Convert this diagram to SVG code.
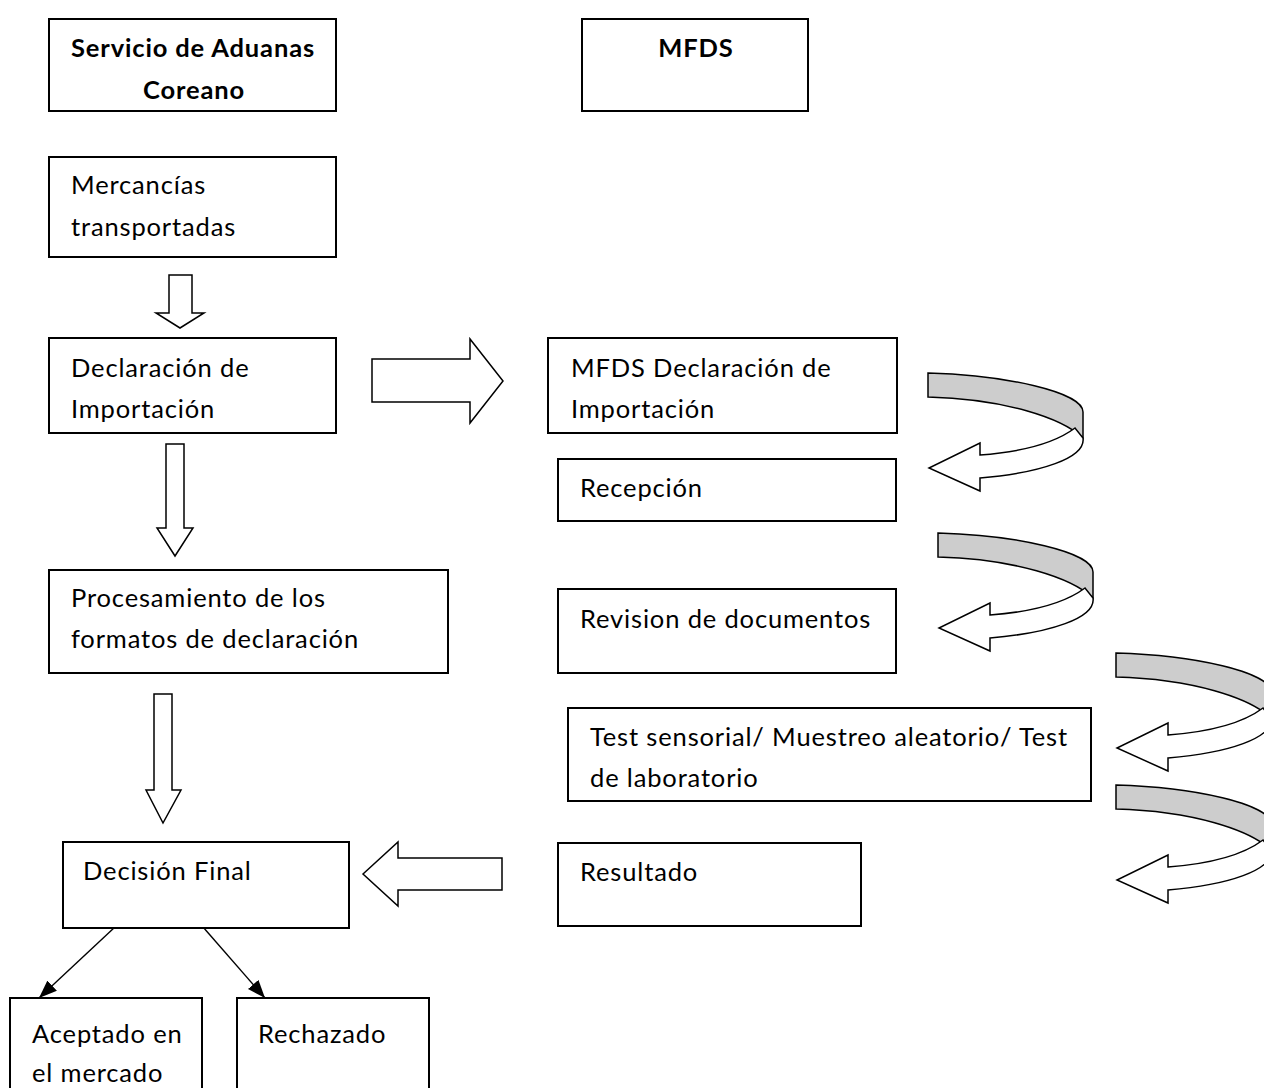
<svg xmlns="http://www.w3.org/2000/svg" xmlns:xlink="http://www.w3.org/1999/xlink" width="1264" height="1088" viewBox="0 0 1264 1088">
<style>
.box{fill:#fff;stroke:#000;stroke-width:2}
.t{font-family:Lato,"Liberation Sans",sans-serif;font-size:25.5px;letter-spacing:0.85px;fill:#000}
.b{font-weight:bold;text-anchor:middle}
.blk{fill:#fff;stroke:#000;stroke-width:1.5;stroke-linejoin:miter}
.gray{fill:#cdcdcd;stroke:#000;stroke-width:1.5}
.wht{fill:#fff;stroke:#000;stroke-width:1.5}
.ln{stroke:#000;stroke-width:1.4;fill:none}
</style>
<defs>
<marker id="ah" viewBox="0 0 18 14" refX="18" refY="7" markerWidth="18" markerHeight="14" markerUnits="userSpaceOnUse" orient="auto">
<path d="M0,0 L18,7 L0,14 Z" fill="#000"/>
</marker>
<g id="curl">
<path class="gray" d="M928,373 C1005,375 1083,392 1083,412 L1083,438 C1062,418 1005,399 928,397 Z"/>
<path class="wht" d="M1075,428 C1055,443 1020,452 980,455 L980,443 L929,468 L980,491 L980,478 C1040,473 1086,458 1083,438 Z"/>
</g>
</defs>
<rect width="1264" height="1088" fill="#fff"/>

<g id="connectors">
<polygon class="blk" points="169,275 192,275 192,313 204,313 180,328 156,313 169,313"/>
<polygon class="blk" points="372,359 470,359 470,339 503,381 470,423 470,402 372,402"/>
<polygon class="blk" points="166,444 184,444 184,528 193,528 175,556 157,528 166,528"/>
<polygon class="blk" points="154,694 172,694 172,790 181,790 163,823 146,790 154,790"/>
<polygon class="blk" points="363,874 398,842 398,858 502,858 502,890 398,890 398,906"/>
<use xlink:href="#curl"/>
<use xlink:href="#curl" transform="translate(10,160)"/>
<use xlink:href="#curl" transform="translate(188,280)"/>
<use xlink:href="#curl" transform="translate(188,412)"/>
<line class="ln" x1="115" y1="927" x2="39" y2="998" marker-end="url(#ah)"/>
<line class="ln" x1="203" y1="927" x2="265" y2="998" marker-end="url(#ah)"/>
</g>

<g id="n-servicio">
<rect class="box" x="49" y="19" width="287" height="92"/>
<text class="t b" x="193" y="57">Servicio de Aduanas</text>
<text class="t b" x="194" y="99">Coreano</text>
</g>
<g id="n-mfds">
<rect class="box" x="582" y="19" width="226" height="92"/>
<text class="t b" x="696" y="57">MFDS</text>
</g>
<g id="n-mercancias">
<rect class="box" x="49" y="157" width="287" height="100"/>
<text class="t" x="71" y="194">Mercancías</text>
<text class="t" x="71" y="236">transportadas</text>
</g>
<g id="n-declaracion">
<rect class="box" x="49" y="338" width="287" height="95"/>
<text class="t" x="71" y="377">Declaración de</text>
<text class="t" x="71" y="418">Importación</text>
</g>
<g id="n-mfds-declaracion">
<rect class="box" x="548" y="338" width="349" height="95"/>
<text class="t" x="571" y="377">MFDS Declaración de</text>
<text class="t" x="571" y="418">Importación</text>
</g>
<g id="n-recepcion">
<rect class="box" x="558" y="459" width="338" height="62"/>
<text class="t" x="580" y="497">Recepción</text>
</g>
<g id="n-procesamiento">
<rect class="box" x="49" y="570" width="399" height="103"/>
<text class="t" x="71" y="607">Procesamiento de los</text>
<text class="t" x="71" y="648">formatos de declaración</text>
</g>
<g id="n-revision">
<rect class="box" x="558" y="589" width="338" height="84"/>
<text class="t" x="580" y="628">Revision de documentos</text>
</g>
<g id="n-test">
<rect class="box" x="568" y="708" width="523" height="93"/>
<text class="t" x="590" y="746">Test sensorial/ Muestreo aleatorio/ Test</text>
<text class="t" x="590" y="787">de laboratorio</text>
</g>
<g id="n-decision">
<rect class="box" x="63" y="842" width="286" height="86"/>
<text class="t" x="83" y="880">Decisión Final</text>
</g>
<g id="n-resultado">
<rect class="box" x="558" y="843" width="303" height="83"/>
<text class="t" x="580" y="881">Resultado</text>
</g>
<g id="n-aceptado">
<rect class="box" x="10" y="998" width="192" height="100"/>
<text class="t" x="32" y="1043">Aceptado en</text>
<text class="t" x="32" y="1082">el mercado</text>
</g>
<g id="n-rechazado">
<rect class="box" x="237" y="998" width="192" height="100"/>
<text class="t" x="258" y="1043">Rechazado</text>
</g>
</svg>
